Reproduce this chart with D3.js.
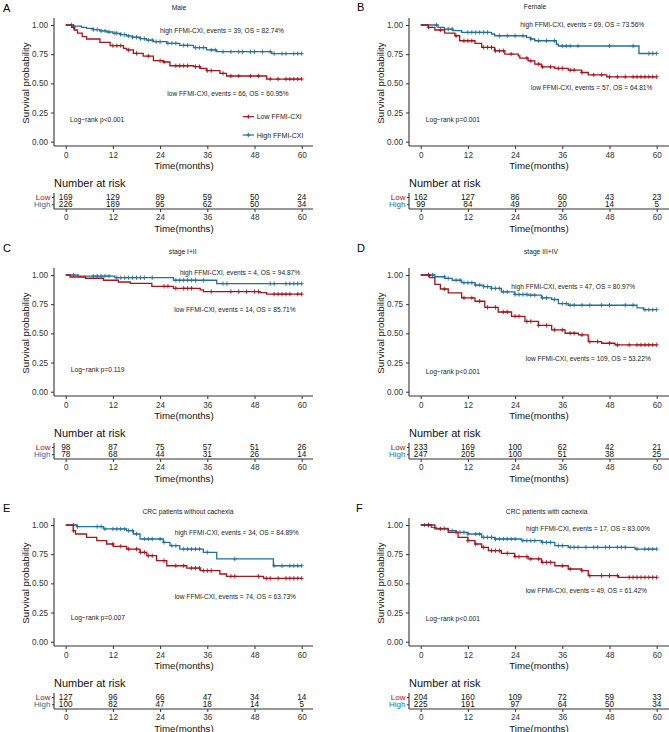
<!DOCTYPE html>
<html><head><meta charset="utf-8">
<script src="https://cdn.jsdelivr.net/npm/d3@7"></script>
<style>body{margin:0;background:#fff}svg{display:block;font-family:"Liberation Sans",Arial,sans-serif}</style>
</head><body><svg id="c" width="669" height="732"></svg>
<script>
const timeTicks=[0,12,24,36,48,60];
const survTicks=[0,0.25,0.5,0.75,1];
const groups=["Low","High"];
const panelLetters=["A","B","C","D","E","F"];
const panelTitles=["Male","Female","stage I+II","stage III+IV","CRC patients without cachexia","CRC patients with cachexia"];
const highNotes=["high FFMI-CXI, events = 39, OS = 82.74%","high FFMI-CXI, events = 69, OS = 73.56%","high FFMI-CXI, events = 4, OS = 94.87%","high FFMI-CXI, events = 47, OS = 80.97%","high FFMI-CXI, events = 34, OS = 84.89%","high FFMI-CXI, events = 17, OS = 83.00%"];
const lowNotes=["low FFMI-CXI, events = 66, OS = 60.95%","low FFMI-CXI, events = 57, OS = 64.81%","low FFMI-CXI, events = 14, OS = 85.71%","low FFMI-CXI, events = 109, OS = 53.22%","low FFMI-CXI, events = 74, OS = 63.73%","low FFMI-CXI, events = 49, OS = 61.42%"];
const logRank=["Log\u2212rank p<0.001","Log\u2212rank p=0.001","Log\u2212rank p=0.119","Log\u2212rank p<0.001","Log\u2212rank p=0.007","Log\u2212rank p<0.001"];
const riskLow=[[169,129,89,59,50,24],[162,127,86,60,43,23],[98,87,75,57,51,26],[233,169,100,62,42,21],[127,96,66,47,34,14],[204,160,109,72,59,33]];
const riskHigh=[[226,189,95,62,50,34],[99,84,49,20,14,5],[78,68,44,31,26,14],[247,205,100,51,38,25],[100,82,47,18,14,5],[225,191,97,64,50,34]];
const legendLabels=["Low FFMI-CXI","High FFMI-CXI"];

// step curves [time, survival]
const lowA=[[0,1],[1.5,0.98],[2.2,0.957],[3,0.93],[4.2,0.9],[5.3,0.88],[8.7,0.851],[11.3,0.823],[14.7,0.8],[15.5,0.786],[17.2,0.757],[19.7,0.734],[22.3,0.694],[24.8,0.683],[26.5,0.651],[32.5,0.643],[34.2,0.629],[35.8,0.609],[39.2,0.586],[40.9,0.563],[51.1,0.537]];
const highA=[[0,1],[2,0.99],[4,0.98],[5.3,0.971],[7,0.96],[8.7,0.949],[10.5,0.94],[12,0.929],[14,0.918],[15.5,0.906],[17,0.895],[18.9,0.883],[20.5,0.87],[22.3,0.857],[25.7,0.843],[29,0.826],[32.5,0.806],[35.8,0.786],[38.4,0.771],[52.4,0.755]];
const lowB=[[0,1],[1.9,0.98],[3.6,0.957],[6.1,0.931],[8.7,0.908],[9.9,0.865],[13.8,0.842],[15.5,0.808],[18.8,0.779],[21.4,0.751],[24.8,0.736],[25.2,0.716],[27.3,0.693],[29,0.665],[30.7,0.642],[34.1,0.628],[37.5,0.613],[40.9,0.593],[42.6,0.573],[47.3,0.556]];
const highB=[[0,1],[4.4,0.98],[6,0.965],[8.2,0.951],[10.4,0.937],[18,0.923],[18.8,0.908],[26.9,0.894],[28,0.88],[29,0.865],[34.5,0.835],[35,0.82],[55.5,0.756]];
const lowC=[[0,1],[1.1,0.983],[5,0.972],[9.6,0.955],[13.4,0.94],[16.4,0.929],[21.9,0.903],[27.4,0.886],[34.2,0.872],[35,0.858],[49.4,0.849],[51.1,0.836]];
const highC=[[0,1],[3.2,0.991],[12.5,0.977],[27.4,0.955],[38.4,0.926]];
const lowD=[[0,1],[2.3,0.977],[3.6,0.919],[5,0.88],[7,0.847],[10.4,0.804],[13.8,0.775],[16.3,0.723],[19.7,0.683],[23.1,0.646],[26.5,0.602],[29.9,0.568],[33.3,0.53],[36.7,0.501],[40.1,0.487],[42.6,0.429],[46,0.415],[49.4,0.401]];
const highD=[[0,1],[3.6,0.985],[6.1,0.971],[8,0.955],[10.4,0.934],[13.8,0.914],[16,0.9],[18,0.885],[20.5,0.856],[23.9,0.833],[27.3,0.827],[30.7,0.804],[33.3,0.79],[35,0.755],[37.5,0.741],[55,0.718],[56.6,0.703]];
const lowE=[[0,1],[1.9,0.951],[2.5,0.923],[5.3,0.894],[7.9,0.866],[10.4,0.837],[12.1,0.817],[15.5,0.794],[18.9,0.766],[20.6,0.737],[23.1,0.694],[25.7,0.651],[30.8,0.631],[34.2,0.609],[39.2,0.58],[40.9,0.56],[50.3,0.543]];
const highE=[[0,1],[2.8,0.986],[9.6,0.966],[15.5,0.951],[17.2,0.923],[18.9,0.88],[24.8,0.851],[26.5,0.823],[29,0.794],[35,0.766],[38.4,0.709],[52.8,0.651]];
const lowF=[[0,1],[3.6,0.966],[7,0.937],[9.5,0.894],[12,0.866],[13.8,0.837],[15.5,0.809],[17.2,0.78],[20.5,0.757],[23.9,0.729],[27.3,0.709],[30.7,0.68],[34.1,0.651],[37.5,0.623],[40.9,0.609],[42.6,0.566],[50.3,0.551]];
const highF=[[0,1],[2.7,0.98],[4,0.97],[7,0.951],[9,0.937],[12,0.923],[15.5,0.894],[18.8,0.88],[25.6,0.866],[30.7,0.851],[34.1,0.823],[37.5,0.809],[54.5,0.794]];

// censoring times
const cenLowA=[2,12,13,14,16,18,21,24,25,28,29,30,31,33,34,36,37,40,42,44,47,49,52,54,56,57,58,59,60];
const cenHighA=[1.5,2,7,8,9,10,11,12.5,13,14,15,16,17,18,19,20,21,22,23,24,26,27,28,30,31,33,34,35,37,38,40,42,44,45,47,48,50,52,53,55,56,58,59,60];
const cenLowB=[2,5,9,11,12,13,16,17,18,19,20,21,23,27,28,30,31,33,35,36,38,39,41,44,46,48,50,52,54,55,56,57,58,59,60];
const cenHighB=[4,7,8,12,13,14,15,16,17,20,22,24,26,28,30,32,34,36,37,38,40,48,54,58,59,60];
const cenLowC=[25,26,28,30,31,32,37,42,44,46,48,49,53,54,55,56,57,59,60];
const cenHighC=[2,7,8,9,10,11,13,14,15,16,17,18,19,20,22,28,29,30,31,32,33,35,40,41,52,53,56,57,58,59,60];
const cenLowD=[2,6,11,13,15,17,19,21,22,24,25,27,28,30,32,34,36,38,39,41,43,45,48,50,53,55,56,57,58,59,60];
const cenHighD=[2,3,6,7,9,10,11,12,13,14,15,16,17,18,19,20,21,22,24,25,26,27,28,29,31,32,34,36,37,38,39,41,43,46,48,52,54,57,58,59,60];
const cenLowE=[2,12,14,16,18,19,20,21,22,25,28,30,32,33,34,35,36,37,42,43,49,51,52,54,56,57,58,59,60];
const cenHighE=[2,3,8,9,10,12,13,14,15,16,17,18,20,21,22,24,25,27,28,30,31,32,33,34,36,43,53,55,57,58,59,60];
const cenLowF=[2,5,9,12,14,16,18,19,20,22,24,25,27,28,30,31,32,33,36,38,41,43,46,48,50,53,54,55,56,57,58,59,60];
const cenHighF=[1,2,6,8,10,11,12,14,15,16,17,18,19,20,21,22,23,24,26,27,28,29,31,32,33,35,36,38,39,40,42,44,45,47,48,50,51,52,55,57,58,59,60];

const lowCurves=[lowA,lowB,lowC,lowD,lowE,lowF];
const highCurves=[highA,highB,highC,highD,highE,highF];
const lowCens=[cenLowA,cenLowB,cenLowC,cenLowD,cenLowE,cenLowF];
const highCens=[cenHighA,cenHighB,cenHighC,cenHighD,cenHighE,cenHighF];

// layout (positions, not data)
const RED="#A3151B", BLUE="#25709A", AX="#333";
const colX=[0,355], rowY=[0,250,500];
const letterPos=[[3,8],[2,7],[3,-2],[2,-2],[3,8.3],[1,8.3]];
const titlePos=[[179,7.3],[180,6.7],[182.7,1],[186,1],[188,11],[191.7,11]];
const highPos=[[222,30.7],[227.3,24.3],[240,22.3],[218.3,36],[236.7,32.3],[233,28.3]];
const lowPos=[[228,93.3],[236.7,87.7],[235,59.3],[233.3,108.3],[235.3,96.7],[231.3,90.7]];
const lrPos=[[70,119],[70.7,119],[70.7,119.3],[70.7,121.7],[70.7,117.7],[70.7,118.3]];

const svg=d3.select("#c");
const x=d3.scaleLinear().domain([0,60]).range([65.7,301.7]);
const y=d3.scaleLinear().domain([0,1]).range([141.7,25]);
const ry=d3.scalePoint().domain(groups).range([197,204.2]);

function stepVal(curve,t){let v=1;for(const [tt,s] of curve){if(tt<=t)v=s;else break;}return v;}

panelLetters.forEach((L,i)=>{
  const g=svg.append("g").attr("transform",`translate(${colX[i%2]},${rowY[Math.floor(i/2)]})`);
  const rightEdge = i%2===1 ? 314 : 313;
  g.append("text").attr("x",letterPos[i][0]).attr("y",letterPos[i][1]).attr("dominant-baseline","central")
    .attr("font-size",11).attr("fill","#000").text(L);
  g.append("text").attr("x",titlePos[i][0]).attr("y",titlePos[i][1]).attr("dominant-baseline","central")
    .attr("text-anchor","middle").attr("font-size",6.7).attr("fill","#222").text(panelTitles[i]);

  // y axis
  const ya=g.append("g").attr("transform","translate(54,0)").call(d3.axisLeft(y).tickValues(survTicks).tickFormat(d3.format(".2f")).tickSize(3).tickSizeOuter(0));
  ya.select(".domain").remove();
  ya.selectAll("line").attr("stroke",AX);
  ya.selectAll("text").attr("font-size",8.2).attr("fill","#333").attr("font-family","Liberation Sans, Arial, sans-serif");
  g.append("line").attr("x1",54).attr("x2",54).attr("y1",18).attr("y2",146).attr("stroke",AX).attr("stroke-width",1.1);
  // x axis
  const xa=g.append("g").attr("transform","translate(0,146)").call(d3.axisBottom(x).tickValues(timeTicks).tickSize(3).tickSizeOuter(0));
  xa.select(".domain").remove();
  xa.selectAll("line").attr("stroke",AX);
  xa.selectAll("text").attr("font-size",8.2).attr("fill","#333").attr("dy","0.71em").attr("font-family","Liberation Sans, Arial, sans-serif");
  g.append("line").attr("x1",54).attr("x2",rightEdge).attr("y1",146).attr("y2",146).attr("stroke",AX).attr("stroke-width",1.1);
  g.append("text").attr("x",184).attr("y",165.5).attr("dominant-baseline","central").attr("text-anchor","middle").attr("font-size",9.7).attr("fill","#111").text("Time(months)");
  g.append("text").attr("transform","translate(25,83) rotate(-90)").attr("dominant-baseline","central").attr("text-anchor","middle").attr("font-size",9.7).attr("fill","#111").text("Survival probability");

  // curves
  const line=d3.line().x(d=>x(d[0])).y(d=>y(d[1])).curve(d3.curveStepAfter);
  [[highCurves[i],highCens[i],BLUE],[lowCurves[i],lowCens[i],RED]].forEach(([cv,cens,col])=>{
    const pts=cv.concat([[60,cv[cv.length-1][1]]]);
    g.append("path").attr("d",line(pts)).attr("fill","none").attr("stroke",col).attr("stroke-width",1.3);
    g.append("g").selectAll("path").data(cens).join("path")
      .attr("d",t=>{const px=x(t),py=y(stepVal(cv,t));return `M${px-2},${py}H${px+2}M${px},${py-2.2}V${py+2.2}`;})
      .attr("stroke",col).attr("stroke-width",0.9);
  });

  // annotations
  g.append("text").attr("x",highPos[i][0]).attr("y",highPos[i][1]).attr("dominant-baseline","central").attr("text-anchor","middle").attr("font-size",6.6).attr("fill","#222").text(highNotes[i]);
  g.append("text").attr("x",lowPos[i][0]).attr("y",lowPos[i][1]).attr("dominant-baseline","central").attr("text-anchor","middle").attr("font-size",6.6).attr("fill","#222").text(lowNotes[i]);
  g.append("text").attr("x",lrPos[i][0]).attr("y",lrPos[i][1]).attr("dominant-baseline","central").attr("font-size",6.7).attr("fill","#222").text(logRank[i]);

  if(i===0){
    legendLabels.forEach((lab,k)=>{
      const ly=116.7+k*18.3, col=k===0?RED:BLUE;
      g.append("line").attr("x1",242.7).attr("x2",254).attr("y1",ly).attr("y2",ly).attr("stroke",col).attr("stroke-width",1.2);
      g.append("path").attr("d",`M246.3,${ly}H250.3M248.3,${ly-2.2}V${ly+2.2}`).attr("stroke",col).attr("stroke-width",1);
      g.append("text").attr("x",256.7).attr("y",ly).attr("dominant-baseline","central").attr("font-size",7).attr("fill","#222").text(lab);
    });
  }

  // risk table
  g.append("text").attr("x",54).attr("y",183).attr("dominant-baseline","central").attr("font-size",11).attr("fill","#111").text("Number at risk");
  const rows=[riskLow[i],riskHigh[i]];
  groups.forEach((gr,k)=>{
    g.append("g").selectAll("text").data(rows[k]).join("text")
      .attr("x",(d,j)=>x(timeTicks[j])).attr("y",ry(gr)).attr("dominant-baseline","central").attr("text-anchor","middle")
      .attr("font-size",8.2).attr("fill","#111").text(d=>d);
  });
  const ra=g.append("g").attr("transform","translate(54,0)").call(d3.axisLeft(ry).tickSize(2).tickPadding(1.5));
  ra.select(".domain").remove();
  ra.selectAll("line").attr("stroke",AX);
  ra.selectAll("text").attr("font-size",8).attr("font-family","Liberation Sans, Arial, sans-serif").attr("fill",d=>d==="Low"?RED:BLUE);
  g.append("line").attr("x1",54).attr("x2",54).attr("y1",193).attr("y2",209).attr("stroke",AX).attr("stroke-width",1.1);
  const ta=g.append("g").attr("transform","translate(0,209)").call(d3.axisBottom(x).tickValues(timeTicks).tickSize(3).tickSizeOuter(0));
  ta.select(".domain").remove();
  ta.selectAll("line").attr("stroke",AX);
  ta.selectAll("text").attr("font-size",8.2).attr("fill","#333").attr("dy","0.62em").attr("font-family","Liberation Sans, Arial, sans-serif");
  g.append("line").attr("x1",54).attr("x2",rightEdge).attr("y1",209).attr("y2",209).attr("stroke",AX).attr("stroke-width",1.1);
  g.append("text").attr("x",184).attr("y",228).attr("dominant-baseline","central").attr("text-anchor","middle").attr("font-size",9.7).attr("fill","#111").text("Time(months)");
});
</script></body></html>
